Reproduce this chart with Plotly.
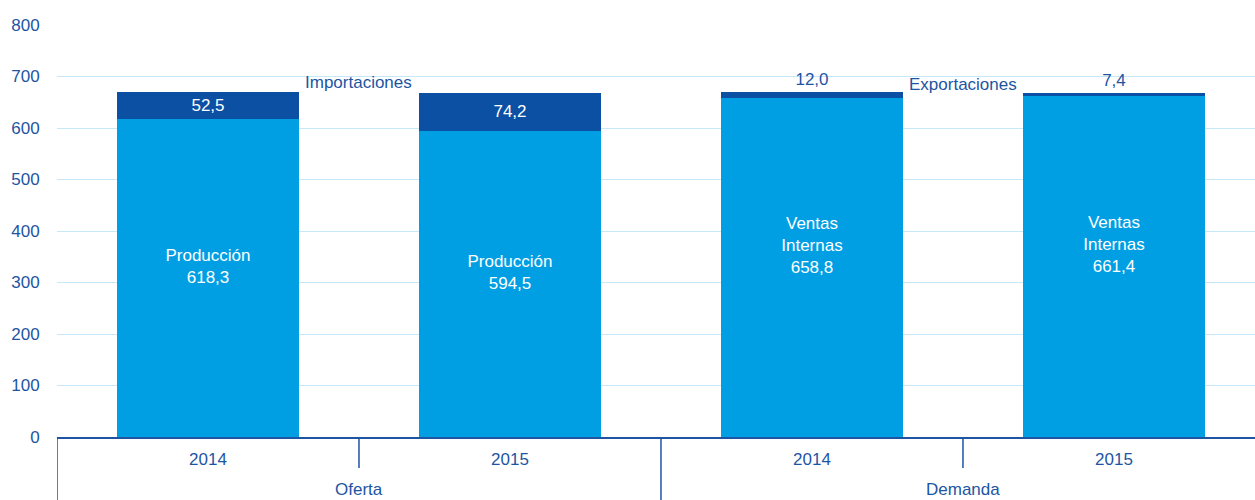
import plotly.graph_objects as go

groups = ["Oferta", "Demanda"]
years = ["2014", "2015", "2014", "2015"]
base_names = ["Producción", "Producción", "Ventas<br>Internas", "Ventas<br>Internas"]
base_values = [618.3, 594.5, 658.8, 661.4]
top_values = [52.5, 74.2, 12.0, 7.4]
side_labels = ["Importaciones", "Exportaciones"]
y_ticks = [0, 100, 200, 300, 400, 500, 600, 700, 800]

LIGHT = "#009fe3"
DARK = "#0b50a3"
TXT = "#1d55a3"
LINE = "#1d55a3"
FONT = "Liberation Sans"
FS = 17

xs = list(range(len(years)))
H = 412  # plot height in px (for paper-relative offsets)

fig = go.Figure()
base_text = []
for n, v in zip(base_names, base_values):
    pad = "<br> " * (1 + n.count("<br>"))
    base_text.append(f"{n}<br>{str(v).replace('.', ',')}{pad}")
fig.add_trace(go.Bar(
    x=xs, y=base_values, marker=dict(color=LIGHT, line=dict(width=0)),
    text=base_text,
    textposition="inside", insidetextanchor="middle",
    textfont=dict(color="white", size=FS, family=FONT),
    width=0.6, hoverinfo="skip", showlegend=False,
))
top_pos = ["inside" if v > 30 else "outside" for v in top_values]
top_col = ["white" if v > 30 else TXT for v in top_values]
fig.add_trace(go.Bar(
    x=xs, y=top_values, marker=dict(color=DARK, line=dict(width=0)),
    texttemplate="%{y:.1f}", textposition=top_pos, insidetextanchor="middle",
    textfont=dict(color=top_col, size=FS, family=FONT),
    cliponaxis=False, constraintext="none",
    width=0.6, hoverinfo="skip", showlegend=False,
))

fig.add_annotation(x=0.5, y=688, text=side_labels[0], showarrow=False,
                   font=dict(color=TXT, size=FS, family=FONT), xref="x", yref="y")
fig.add_annotation(x=2.5, y=684, text=side_labels[1], showarrow=False,
                   font=dict(color=TXT, size=FS, family=FONT), xref="x", yref="y")

# group labels and axis dividers
for gi, g in enumerate(groups):
    fig.add_annotation(x=gi * 2 + 0.5, y=-52 / H, xref="x", yref="paper",
                       text=g, showarrow=False, yanchor="middle",
                       font=dict(color=TXT, size=FS, family=FONT))
    fig.add_shape(type="line", xref="x", yref="paper",
                  x0=gi * 2 - 0.5, x1=gi * 2 - 0.5, y0=0, y1=-70 / H,
                  line=dict(color=LINE, width=1.5))
    fig.add_shape(type="line", xref="x", yref="paper",
                  x0=gi * 2 + 0.5, x1=gi * 2 + 0.5, y0=0, y1=-31 / H,
                  line=dict(color=LINE, width=1.5))

fig.update_layout(
    width=1255, height=500,
    margin=dict(l=57, r=0, t=25, b=63, autoexpand=False),
    barmode="stack",
    separators=", ",
    plot_bgcolor="white", paper_bgcolor="white",
    font=dict(family=FONT, size=FS, color=TXT),
)
fig.update_xaxes(
    range=[-0.5, 3.467], tickvals=xs, ticktext=years, automargin=False,
    showline=True, linecolor=LINE, linewidth=2,
    ticks="outside", ticklen=6, tickcolor="rgba(0,0,0,0)",
    tickfont=dict(size=FS, color=TXT, family=FONT),
    showgrid=False, zeroline=False,
)
fig.update_yaxes(
    range=[0, 800], tickvals=y_ticks, showline=False, automargin=False,
    ticks="outside", ticklen=13, tickcolor="rgba(0,0,0,0)",
    gridcolor="#c6e8f8", gridwidth=1, zeroline=False,
    tickfont=dict(size=FS, color=TXT, family=FONT),
)

fig.write_html("out.html", config={"displayModeBar": False},
               post_script="document.body.style.margin='0';document.body.style.overflow='hidden';")
